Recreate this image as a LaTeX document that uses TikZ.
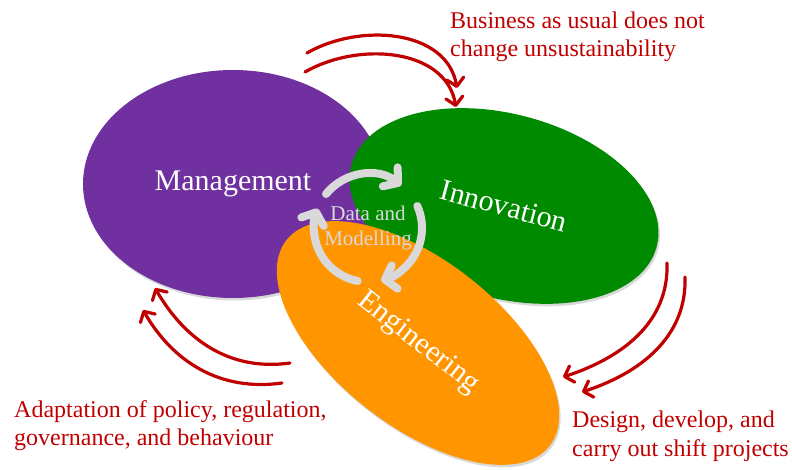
\documentclass[tikz,border=0pt]{standalone}
\usepackage{fontspec}
\setmainfont{Liberation Serif}
\usetikzlibrary{shapes.geometric,arrows.meta,shadows}
\definecolor{mgmt}{HTML}{7030A0}
\definecolor{innov}{HTML}{008A00}
\definecolor{engin}{HTML}{FF9500}
\definecolor{ringgrey}{HTML}{D9D9D9}
\definecolor{shiftred}{HTML}{C00000}

\begin{document}
\begin{tikzpicture}[x=1pt,y=1pt,
    field/.style={ellipse,inner sep=0pt,text=white,font=\fontsize{30}{36}\selectfont,
        drop shadow={opacity=.3,shadow xshift=1.5pt,shadow yshift=-2.5pt}},
    ring/.style={ringgrey,line width=8pt,line cap=round,-{Straight Barb[length=10pt,width=24pt,round]}},
    flow/.style={shiftred,line width=3.2pt,line cap=round,-{Straight Barb[length=8pt,width=17pt,round]}},
    remark/.style={shiftred,font=\fontsize{24}{28.5}\selectfont,align=left,anchor=north west,inner sep=0pt}]
    \useasboundingbox (0,0) rectangle (792,469);
    \node[field,fill=mgmt,minimum width=300pt,minimum height=228pt] (man) at (233,285) {Management};
    \node[field,fill=innov,minimum width=316pt,minimum height=184pt,rotate=-15] (inn) at (504,263) {Innovation};
    \node[field,fill=engin,minimum width=334pt,minimum height=166pt,rotate=-38] (eng) at (418,126) {Engineering};
    \node[text=ringgrey,font=\fontsize{21}{25}\selectfont,align=center,inner sep=0pt] (dm) at (368,241) {Data and\\Modelling};
    \foreach \s/\e in {141/52,24/-76,-101/-201}
        \draw[ring] (dm.center) ++(\s:54) arc[start angle=\s,end angle=\e,radius=54];
    \coordinate (bau1) at (307,416);
    \coordinate (bau1e) at (457,381);
    \coordinate (bau2) at (305,397);
    \coordinate (bau2e) at (456,362);
    \coordinate (ddc1) at (667,206);
    \coordinate (ddc1e) at (563,92);
    \coordinate (ddc2) at (685,192);
    \coordinate (ddc2e) at (582,77);
    \coordinate (apg1) at (290,106);
    \coordinate (apg1e) at (155,181);
    \coordinate (apg2) at (282,86);
    \coordinate (apg2e) at (143,159);
    \draw[flow] (bau1) to[out=30,in=100] (bau1e);
    \draw[flow] (bau2) to[out=30,in=100] (bau2e);
    \draw[flow] (ddc1) to[out=-88,in=18] (ddc1e);
    \draw[flow] (ddc2) to[out=-88,in=18] (ddc2e);
    \draw[flow] (apg1) to[out=188,in=-60] (apg1e);
    \draw[flow] (apg2) to[out=188,in=-60] (apg2e);
    \node[remark] (bau) at (450,457.5) {Business as usual does not\\change unsustainability};
    \node[remark] (ddc) at (572,58) {Design, develop, and\\carry out shift projects};
    \node[remark] (apg) at (14,69) {Adaptation of policy, regulation,\\governance, and behaviour};
\end{tikzpicture}
\end{document}
